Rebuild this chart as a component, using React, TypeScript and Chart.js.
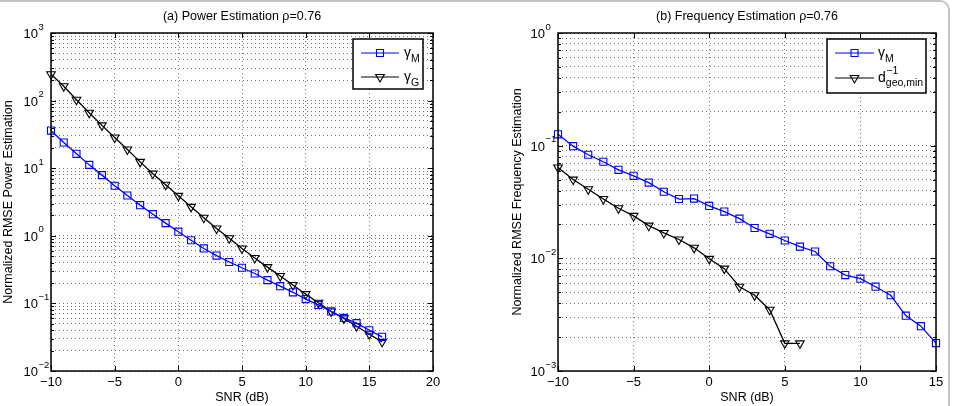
import { useEffect, useRef } from "react";
import { Chart, registerables } from "chart.js";

Chart.register(...registerables);

const FONT = '"Liberation Sans", Arial, Helvetica, sans-serif';

// (a) Power estimation
const snrPower = [-10, -9, -8, -7, -6, -5, -4, -3, -2, -1, 0, 1, 2, 3, 4, 5, 6, 7, 8, 9, 10, 11, 12, 13, 14, 15, 16];
const powerGammaM = [36, 24, 16.3, 11.2, 7.9, 5.5, 3.95, 2.84, 2.09, 1.54, 1.15, 0.86, 0.65, 0.51, 0.41, 0.337, 0.277, 0.221, 0.18, 0.146, 0.116, 0.095, 0.076, 0.061, 0.051, 0.04, 0.032];
const powerGammaG = [245, 163, 103, 66, 43, 28.4, 18.9, 12.4, 8.3, 5.7, 3.9, 2.68, 1.85, 1.28, 0.92, 0.65, 0.47, 0.344, 0.254, 0.187, 0.137, 0.102, 0.076, 0.06, 0.046, 0.035, 0.027];
const powerXTicks = [-10, -5, 0, 5, 10, 15, 20];
const powerDecades = [-2, -1, 0, 1, 2, 3];

// (b) Frequency estimation
const snrFreqM = [-10, -9, -8, -7, -6, -5, -4, -3, -2, -1, 0, 1, 2, 3, 4, 5, 6, 7, 8, 9, 10, 11, 12, 13, 14, 15];
const freqGammaM = [0.126, 0.099, 0.083, 0.072, 0.061, 0.054, 0.047, 0.039, 0.0336, 0.0339, 0.0292, 0.026, 0.0225, 0.0186, 0.0165, 0.0144, 0.0127, 0.0115, 0.0085, 0.0071, 0.0066, 0.0056, 0.0047, 0.0031, 0.0025, 0.00177];
const snrFreqD = [-10, -9, -8, -7, -6, -5, -4, -3, -2, -1, 0, 1, 2, 3, 4, 5, 6];
const freqDgeo = [0.064, 0.05, 0.041, 0.0336, 0.0278, 0.0238, 0.0195, 0.0168, 0.0147, 0.0124, 0.0099, 0.0081, 0.0056, 0.0047, 0.0035, 0.00176, 0.00176];
const freqXTicks = [-10, -5, 0, 5, 10, 15];
const freqDecades = [-3, -2, -1, 0];

const BLUE = "#0000ff";
const BLACK = "#000000";
const GRID = "rgba(0,0,0,0.55)";

type LegendItem = {
  color: string;
  marker: "square" | "triangle";
  label: (ctx: CanvasRenderingContext2D, x: number, y: number) => void;
};

type PanelSpec = {
  title: string;
  yTitle: string;
  yTitleX: number;
  xTicks: number[];
  decades: number[];
  area: { left: number; right: number; top: number; bottom: number };
  legend: { w: number; h: number; rows: number[]; lineLen: number; textGap: number; items: LegendItem[] };
  datasets: { x: number[]; y: number[]; color: string; marker: "square" | "triangle" }[];
};

const minus = (v: number) => (v < 0 ? "\u2212" + Math.abs(v) : String(v));

function subLabel(main: string, sub: string) {
  return (ctx: CanvasRenderingContext2D, x: number, y: number) => {
    ctx.textAlign = "left";
    ctx.textBaseline = "alphabetic";
    ctx.font = `14px ${FONT}`;
    ctx.fillText(main, x, y + 4);
    const w = ctx.measureText(main).width;
    ctx.font = `10.5px ${FONT}`;
    ctx.fillText(sub, x + w, y + 9);
  };
}

function dLabel(ctx: CanvasRenderingContext2D, x: number, y: number) {
  ctx.textAlign = "left";
  ctx.textBaseline = "alphabetic";
  ctx.font = `14px ${FONT}`;
  ctx.fillText("d", x, y + 4);
  const w = ctx.measureText("d").width;
  ctx.font = `10.5px ${FONT}`;
  ctx.fillText("\u22121", x + w + 0.5, y - 4);
  ctx.fillText("geo,min", x + w, y + 8);
}

function drawMarker(ctx: CanvasRenderingContext2D, kind: "square" | "triangle", x: number, y: number, color: string) {
  ctx.save();
  ctx.strokeStyle = color;
  ctx.lineWidth = 1.1;
  ctx.beginPath();
  if (kind === "square") {
    ctx.rect(x - 3.5, y - 3.5, 7, 7);
  } else {
    const r = 5;
    ctx.moveTo(x - r * 0.866, y - r * 0.5);
    ctx.lineTo(x + r * 0.866, y - r * 0.5);
    ctx.lineTo(x, y + r);
    ctx.closePath();
  }
  ctx.stroke();
  ctx.restore();
}

function makePlugin(spec: PanelSpec) {
  return {
    id: "panelDecor",
    afterDatasetsDraw(chart: any) {
      const ctx: CanvasRenderingContext2D = chart.ctx;
      const a = chart.chartArea;
      const xs = chart.scales.x;
      const ys = chart.scales.y;
      ctx.save();
      ctx.strokeStyle = "#000";
      ctx.lineWidth = 1;
      // inward tick marks on all four sides
      ctx.beginPath();
      for (const t of spec.xTicks) {
        const px = Math.round(xs.getPixelForValue(t)) + 0.5;
        ctx.moveTo(px, a.bottom);
        ctx.lineTo(px, a.bottom - 5);
        ctx.moveTo(px, a.top);
        ctx.lineTo(px, a.top + 5);
      }
      for (const t of ys.ticks) {
        const py = Math.round(ys.getPixelForValue(t.value)) + 0.5;
        const len = t.major ? 5 : 3;
        ctx.moveTo(a.left, py);
        ctx.lineTo(a.left + len, py);
        ctx.moveTo(a.right, py);
        ctx.lineTo(a.right - len, py);
      }
      ctx.stroke();
      // axes box
      ctx.lineWidth = 1.5;
      ctx.strokeRect(a.left, a.top, a.right - a.left, a.bottom - a.top);
      ctx.restore();
    },
    afterDraw(chart: any) {
      const ctx: CanvasRenderingContext2D = chart.ctx;
      const a = chart.chartArea;
      const ys = chart.scales.y;
      const cx = (a.left + a.right) / 2;
      ctx.save();
      ctx.fillStyle = "#000";
      // title
      ctx.font = `12.5px ${FONT}`;
      ctx.textAlign = "center";
      ctx.textBaseline = "middle";
      ctx.fillText(spec.title, cx, 17);
      // x axis title
      ctx.fillText("SNR (dB)", cx, 398);
      // y axis title
      ctx.save();
      ctx.translate(spec.yTitleX, (a.top + a.bottom) / 2);
      ctx.rotate(-Math.PI / 2);
      ctx.fillText(spec.yTitle, 0, 0);
      ctx.restore();
      // y tick labels as powers of ten
      for (const e of spec.decades) {
        const py = ys.getPixelForValue(Math.pow(10, e));
        const xr = a.left - 13;
        ctx.textBaseline = "alphabetic";
        ctx.font = `13px ${FONT}`;
        ctx.textAlign = "right";
        ctx.fillText("10", xr, py + 5);
        ctx.font = `9.5px ${FONT}`;
        ctx.textAlign = "left";
        ctx.fillText(minus(e), xr + 0.5, py - 3.5);
      }
      // legend
      const L = spec.legend;
      const bx = a.right - 10 - L.w;
      const by = a.top + 6;
      ctx.fillStyle = "#fff";
      ctx.fillRect(bx, by, L.w, L.h);
      ctx.strokeStyle = "#000";
      ctx.lineWidth = 1.5;
      ctx.strokeRect(bx, by, L.w, L.h);
      L.items.forEach((it, i) => {
        const ry = by + L.rows[i];
        const x0 = bx + 8;
        const x1 = x0 + L.lineLen;
        ctx.strokeStyle = it.color;
        ctx.lineWidth = 1.2;
        ctx.beginPath();
        ctx.moveTo(x0, ry);
        ctx.lineTo(x1, ry);
        ctx.stroke();
        drawMarker(ctx, it.marker, (x0 + x1) / 2, ry, it.color);
        ctx.fillStyle = "#000";
        it.label(ctx, x1 + L.textGap, ry);
      });
      ctx.restore();
    },
  };
}

function buildChart(canvas: HTMLCanvasElement, spec: PanelSpec) {
  const W = 955;
  const H = 406;
  const yAxisWidth = 40;
  const xAxisHeight = H - spec.area.bottom;
  const xMin = spec.xTicks[0];
  const xMax = spec.xTicks[spec.xTicks.length - 1];
  const yMin = Math.pow(10, spec.decades[0]);
  const yMax = Math.pow(10, spec.decades[spec.decades.length - 1]);

  return new Chart(canvas, {
    type: "line",
    data: {
      datasets: spec.datasets.map((d) => ({
        data: d.x.map((x, i) => ({ x, y: d.y[i] })),
        borderColor: d.color,
        borderWidth: 1.3,
        pointStyle: d.marker === "square" ? "rect" : "triangle",
        rotation: d.marker === "square" ? 0 : 180,
        pointRadius: 5,
        pointBorderWidth: 1.1,
        pointBorderColor: d.color,
        pointBackgroundColor: "rgba(0,0,0,0)",
        fill: false,
        tension: 0,
        clip: false as any,
      })),
    },
    options: {
      animation: false,
      responsive: false,
      devicePixelRatio: 1,
      events: [],
      layout: {
        padding: {
          left: spec.area.left - yAxisWidth,
          right: W - spec.area.right,
          top: spec.area.top,
          bottom: 0,
        },
      },
      plugins: { legend: { display: false }, tooltip: { enabled: false }, title: { display: false } },
      scales: {
        x: {
          type: "linear",
          min: xMin,
          max: xMax,
          afterBuildTicks: (scale: any) => {
            scale.ticks = spec.xTicks.map((v) => ({ value: v }));
          },
          afterFit: (scale: any) => {
            scale.height = xAxisHeight;
          },
          ticks: {
            autoSkip: false,
            maxRotation: 0,
            padding: 4,
            color: "#000",
            font: { family: FONT, size: 13 },
            callback: (v: any) => minus(Number(v)),
          },
          grid: {
            drawTicks: false,
            color: GRID,
            lineWidth: 1,
          },
          border: { display: false, dash: [1, 3] },
        },
        y: {
          type: "logarithmic",
          min: yMin,
          max: yMax,
          afterBuildTicks: (scale: any) => {
            const ticks: { value: number; major: boolean }[] = [];
            for (let e = spec.decades[0]; e <= spec.decades[spec.decades.length - 1]; e++) {
              for (let m = 1; m <= 9; m++) {
                const v = m * Math.pow(10, e);
                if (v > yMax * 1.0001) break;
                ticks.push({ value: v, major: m === 1 });
              }
            }
            scale.ticks = ticks;
          },
          afterFit: (scale: any) => {
            scale.width = yAxisWidth;
          },
          ticks: { display: false },
          grid: {
            drawTicks: false,
            color: GRID,
            lineWidth: 1,
          },
          border: { display: false, dash: [1, 3] },
        },
      },
    },
    plugins: [makePlugin(spec)],
  } as any);
}

const panelA: PanelSpec = {
  title: "(a) Power Estimation \u03c1=0.76",
  yTitle: "Normalized RMSE Power Estimation",
  yTitleX: 9,
  xTicks: powerXTicks,
  decades: powerDecades,
  area: { left: 51, right: 433, top: 33, bottom: 371 },
  legend: {
    w: 70,
    h: 50,
    rows: [14, 38],
    lineLen: 38,
    textGap: 5,
    items: [
      { color: BLUE, marker: "square", label: subLabel("\u03b3", "M") },
      { color: BLACK, marker: "triangle", label: subLabel("\u03b3", "G") },
    ],
  },
  datasets: [
    { x: snrPower, y: powerGammaM, color: BLUE, marker: "square" },
    { x: snrPower, y: powerGammaG, color: BLACK, marker: "triangle" },
  ],
};

const panelB: PanelSpec = {
  title: "(b) Frequency Estimation \u03c1=0.76",
  yTitle: "Normalized RMSE Frequency Estimation",
  yTitleX: 518,
  xTicks: freqXTicks,
  decades: freqDecades,
  area: { left: 558, right: 936, top: 33, bottom: 371 },
  legend: {
    w: 99,
    h: 54,
    rows: [14, 39],
    lineLen: 39,
    textGap: 4,
    items: [
      { color: BLUE, marker: "square", label: subLabel("\u03b3", "M") },
      { color: BLACK, marker: "triangle", label: dLabel },
    ],
  },
  datasets: [
    { x: snrFreqM, y: freqGammaM, color: BLUE, marker: "square" },
    { x: snrFreqD, y: freqDgeo, color: BLACK, marker: "triangle" },
  ],
};

export default function App() {
  const refA = useRef<HTMLCanvasElement>(null);
  const refB = useRef<HTMLCanvasElement>(null);

  useEffect(() => {
    const charts: Chart[] = [];
    if (refA.current) charts.push(buildChart(refA.current, panelA));
    if (refB.current) charts.push(buildChart(refB.current, panelB));
    return () => charts.forEach((c) => c.destroy());
  }, []);

  const canvasStyle: React.CSSProperties = { position: "absolute", left: 0, top: 0 };

  return (
    <div
      style={{
        position: "fixed",
        left: 0,
        top: 0,
        width: 955,
        height: 406,
        background: "#fff",
        overflow: "hidden",
      }}
    >
      <div
        style={{
          position: "absolute",
          left: -30,
          top: 0,
          width: 950 + 30,
          height: 480,
          border: "2px solid #c4c4c4",
          borderRadius: 10,
          boxSizing: "border-box",
        }}
      />
      <canvas ref={refA} width={955} height={406} style={canvasStyle} />
      <canvas ref={refB} width={955} height={406} style={canvasStyle} />
    </div>
  );
}
